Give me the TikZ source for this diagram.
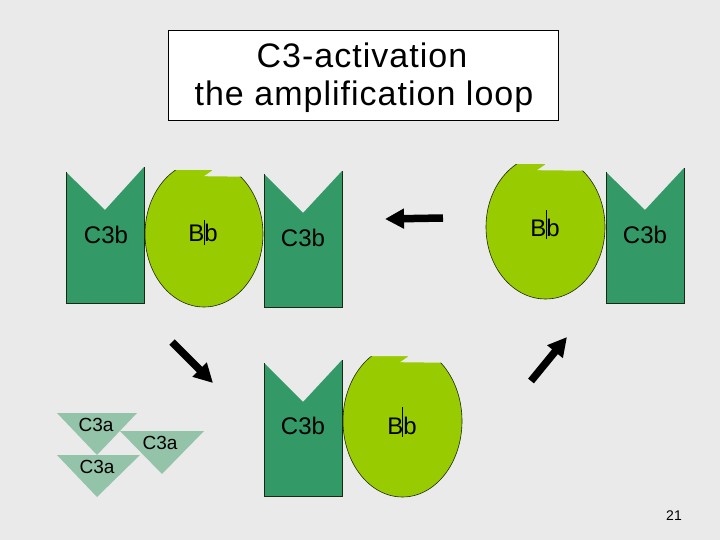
\documentclass[tikz,border=0pt]{standalone}
\usepackage{fontspec}
\setmainfont{Liberation Sans}
\usetikzlibrary{arrows.meta}
\definecolor{bg}{HTML}{EAEAEA}
\definecolor{cthreeb}{HTML}{339966}
\definecolor{bbgreen}{HTML}{99CC00}
\definecolor{cthreea}{HTML}{93C3A8}
\definecolor{edge}{HTML}{1A2A10}
\tikzset{
  lbl/.style={inner sep=0pt, font=\fontsize{24}{28}\selectfont},
  albl/.style={inner sep=0pt, font=\fontsize{19}{22}\selectfont},
  ttl/.style={inner sep=0pt, anchor=base, font=\fontsize{34}{40}\selectfont\addfontfeature{LetterSpace=3}},
  bigarrow/.style={line width=7.5pt, black, -{Triangle[length=19pt,width=19pt]}},
  cursor/.style={line width=0.6pt, black},
}
% C3b shape: #1 left x, #2 right x, #3 top-left y, #4 top-right y, #5 notch y, #6 bottom y
\newcommand{\cthreebshape}[6]{%
  \fill[cthreeb] (#1,#3) -- ({(#1+#2)/2},#5) -- (#2,#4) -- (#2,#6) -- (#1,#6) -- cycle;
  \draw[edge, line width=0.7pt] (#1,#3) -- (#1,#6) -- (#2,#6) -- (#2,#4);
}
% Bb shape: #1 cx, #2 cy, #3 rx, #4 ry, #5 upper cut y, #6 notch x, #7 lower cut y
\newcommand{\bbshape}[7]{%
  \filldraw[fill=bbgreen, draw=edge, line width=0.6pt] (#1,#2) ellipse [x radius=#3, y radius=#4];
  \fill[bg] ({#1-#3-3},{#2-#4-5}) -- ({#1+#3+3},{#2-#4-5}) -- ({#1+#3+3},#7)
     -- ({#6-8},{#7-0.8}) -- (#6,{#5+0.8}) -- (#6,#5) -- ({#1-#3-3},#5) -- cycle;
}
\begin{document}
\begin{tikzpicture}[x=1pt,y=-1pt]
\fill[bg] (0,0) rectangle (720,540);
\useasboundingbox (0,0) rectangle (720,540);

% title
\node[draw=black, fill=white, line width=0.6pt, minimum width=390pt, minimum height=90pt, inner sep=0pt] (title) at (363,75) {};
\node[ttl] (t1) at (362,68) {C3-activation};
\node[ttl] (t2) at (364,106) {the amplification loop};

% top left pair
\bbshape{204}{234}{59}{73}{170}{212}{177}
\cthreebshape{66}{144}{172}{167}{210}{303}
\node[lbl] (c3b1) at (106,235) {C3b};
\node[lbl] (bb1) at (203,233) {Bb};
\draw[cursor] (204,220) -- (204,245);

% top middle C3b
\cthreebshape{264}{342}{174}{171}{213}{307}
\node[lbl] (c3b2) at (303,238) {C3b};

% top right pair
\bbshape{545.5}{227}{59.5}{72}{164}{545}{171}
\cthreebshape{606}{684}{172}{168}{210}{303}
\node[lbl] (c3b3) at (645,235) {C3b};
\node[lbl] (bb2) at (545,228) {Bb};
\draw[cursor] (546,210) -- (546,239);

% bottom pair
\bbshape{402.5}{421}{59.5}{76}{356}{408}{363}
\cthreebshape{264}{342}{363}{360}{402}{496}
\node[lbl] (c3b4) at (303,426) {C3b};
\node[lbl] (bb3) at (402,426) {Bb};
\draw[cursor] (402,407) -- (402,437);

% C3a triangles
\fill[cthreea] (57,413) -- (137,413) -- (97,455) -- cycle;
\fill[cthreea] (120,431) -- (204,431) -- (162,474) -- cycle;
\fill[cthreea] (57,455) -- (140,455) -- (97,497) -- cycle;
\node[albl] (c3a1) at (96,425) {C3a};
\node[albl] (c3a2) at (160,443) {C3a};
\node[albl] (c3a3) at (97,467) {C3a};

% arrows
\coordinate (a1s) at (172,342);
\coordinate (a1e) at (213,383);
\coordinate (a2s) at (443,218);
\coordinate (a2e) at (385,219);
\coordinate (a3s) at (531,381);
\coordinate (a3e) at (567,337);
\draw[bigarrow] (a1s) -- (a1e);
\draw[bigarrow] (a2s) -- (a2e);
\draw[bigarrow] (a3s) -- (a3e);

% page number
\node[inner sep=0pt, font=\fontsize{14}{16}\selectfont] (pg) at (674,516) {21};
\end{tikzpicture}
\end{document}
